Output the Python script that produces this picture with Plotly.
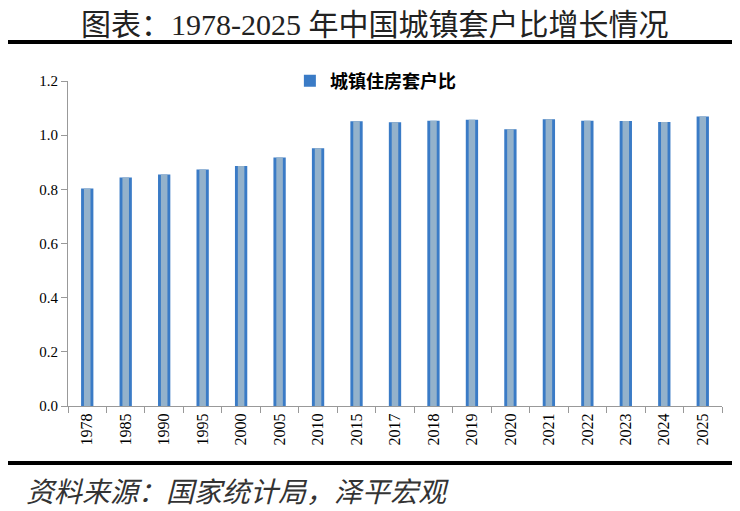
import plotly.graph_objs as go

# 城镇住房套户比 by year
years = ['1978', '1985', '1990', '1995', '2000', '2005', '2010', '2015', '2017',
         '2018', '2019', '2020', '2021', '2022', '2023', '2024', '2025']
ratio = [0.803, 0.844, 0.855, 0.873, 0.886, 0.918, 0.952, 1.051, 1.048,
         1.053, 1.057, 1.022, 1.059, 1.053, 1.052, 1.049, 1.069]

title_text = '图表：1978-2025 年中国城镇套户比增长情况'
source_text = '资料来源：国家统计局，泽平宏观'
series_name = '城镇住房套户比'

serif = 'Liberation Serif, Noto Sans CJK SC'

# outer darker bar plus a lighter inner bar to mimic the gradient fill
data = [go.Bar(x=years, y=ratio, name=series_name, width=0.32,
               marker=dict(color='#3a7bc6', line=dict(width=0))),
        go.Bar(x=years, y=ratio, width=0.17, showlegend=False, hoverinfo='skip',
               marker=dict(color='#94b2cb', line=dict(width=0)))]

# page body has an 8px margin, so the margins are shifted by that amount
layout = go.Layout(
    width=740, height=511,
    margin=dict(l=60, r=26, t=73, b=113),
    paper_bgcolor='white', plot_bgcolor='white',
    barmode='overlay',
    showlegend=True,
    legend=dict(x=0.47, y=1.0, xanchor='center', yanchor='middle',
                font=dict(family='Noto Sans CJK SC', size=18, color='black', weight='bold'),
                bgcolor='rgba(0,0,0,0)', itemwidth=30),
    xaxis=dict(type='category', showline=True, linecolor='#999999', linewidth=1,
               ticks='outside', tickson='boundaries', ticklen=6, tickcolor='#999999',
               tickangle=-90, tickfont=dict(family=serif, size=16, color='black'),
               showgrid=False, automargin=False),
    yaxis=dict(range=[0, 1.2], dtick=0.2, tickformat='.1f', showline=True,
               linecolor='#999999', linewidth=1, ticks='outside', ticklen=6,
               tickcolor='#999999', showgrid=False, zeroline=False, automargin=False,
               tickfont=dict(family=serif, size=15, color='black')),
    shapes=[dict(type='line', xref='paper', yref='paper', x0=-0.1, x1=1.06,
                 y0=1.12, y1=1.12, line=dict(color='black', width=4)),
            dict(type='line', xref='paper', yref='paper', x0=-0.1, x1=1.06,
                 y0=-0.175, y1=-0.175, line=dict(color='black', width=4))],
    annotations=[dict(text=title_text, xref='paper', yref='paper', x=0.47, y=1.175,
                      xanchor='center', yanchor='middle', showarrow=False,
                      font=dict(family=serif, size=30, color='#222222')),
                 dict(text='<i>' + source_text + '</i>', xref='paper', yref='paper',
                      x=-0.068, y=-0.258, xanchor='left', yanchor='middle', showarrow=False,
                      font=dict(family='Noto Sans CJK SC', size=28, color='#333333'))]
)

fig = go.Figure(data, layout)
fig.write_html('out.html')
